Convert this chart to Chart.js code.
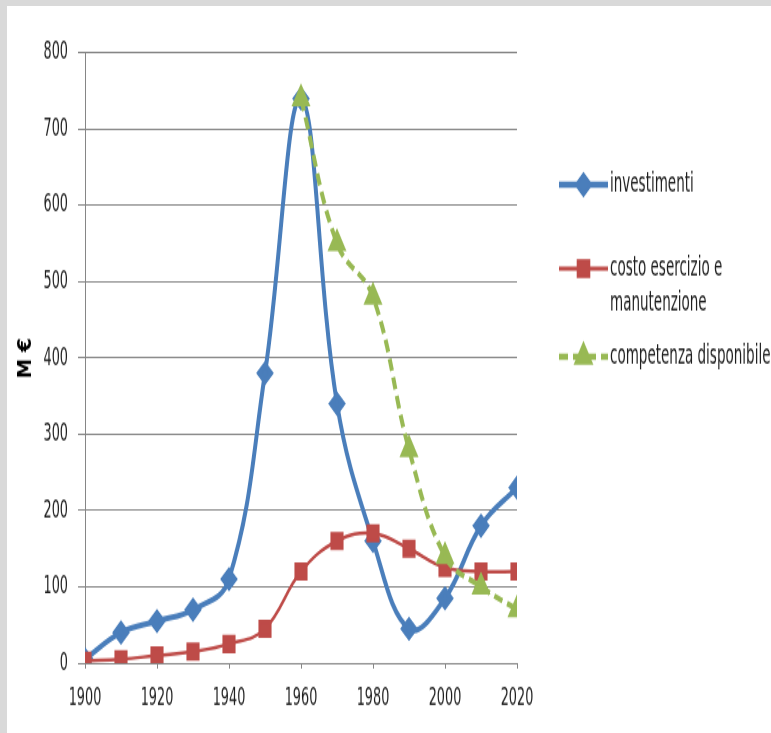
<!DOCTYPE html>
<html>
<head>
<meta charset="utf-8">
<script src="https://cdn.jsdelivr.net/npm/chart.js@4/dist/chart.umd.min.js"></script>
<style>
    html, body { margin: 0; padding: 0; background: #fff; overflow: hidden; }
    #wrap { position: relative; width: 771px; height: 733px; }
    #chart { position: absolute; left: 0; top: 0; transform-origin: 0 0; }
    .frame { position: absolute; background: #d9d9d9; }
</style>
</head>
<body>
<div id="wrap">
    <canvas id="chart" width="771" height="524"></canvas>
    <div class="frame" style="left:0;top:0;width:771px;height:6px"></div>
    <div class="frame" style="left:0;top:0;width:7px;height:733px"></div>
</div>
<script>
// data (M €)
const years = [1900, 1910, 1920, 1930, 1940, 1950, 1960, 1970, 1980, 1990, 2000, 2010, 2020];
const investimenti = [5, 40, 55, 70, 110, 380, 740, 340, 160, 45, 85, 180, 230];
const costoEsercizio = [3, 5, 10, 15, 25, 45, 120, 160, 170, 150, 125, 120, 120];
const competenza = [null, null, null, null, null, null, 740, 550, 480, 280, 140, 100, 70];

const seriesNames = ['investimenti', 'costo esercizio e manutenzione', 'competenza disponibile'];
const xTickValues = [1900, 1920, 1940, 1960, 1980, 2000, 2020];
const yTickValues = [0, 100, 200, 300, 400, 500, 600, 700, 800];
const yTitle = 'M €';

// the reference is stretched vertically, so the canvas is too
const STRETCH = 733 / 524;
// and its text is narrow: squeeze every label sideways
const TEXT_SQUEEZE = 0.79;

const canvas = document.getElementById('chart');
canvas.style.transform = 'scaleY(' + STRETCH + ')';
const ctx = canvas.getContext('2d');
const rawFillText = ctx.fillText.bind(ctx);
ctx.fillText = function (text, x, y) {
    this.save();
    this.translate(x, y);
    this.scale(TEXT_SQUEEZE, 1);
    rawFillText(text, 0, 0);
    this.restore();
};

const FONT = '"Liberation Sans Narrow", "DejaVu Sans Condensed", sans-serif';

const toPoints = vals => years.map((yr, i) => ({ x: yr, y: vals[i] }));

// legend drawn by hand: Excel-like spacing, two-line label
const legendRows = [
    { lines: ['investimenti'], y: 132 },
    { lines: ['costo esercizio e', 'manutenzione'], y: 192 },
    { lines: ['competenza disponibile'], y: 255 }
];

const sideLegend = {
    id: 'sideLegend',
    afterDraw(chart) {
        const c = chart.ctx;
        const x0 = 559, x1 = 608;
        chart.data.datasets.forEach((ds, i) => {
            const row = legendRows[i];
            c.save();
            c.strokeStyle = ds.borderColor;
            c.lineWidth = ds.borderWidth + 0.5;
            c.setLineDash(ds.borderDash || []);
            c.beginPath();
            c.moveTo(x0, row.y);
            c.lineTo(x1, row.y);
            c.stroke();
            c.setLineDash([]);
            Chart.helpers.drawPoint(c, {
                pointStyle: ds.pointStyle,
                radius: ds.pointRadius,
                rotation: 0,
                borderWidth: 1
            }, (x0 + x1) / 2, row.y);
            c.fillStyle = ds.pointBackgroundColor;
            c.fill();
            c.fillStyle = '#1f1f1f';
            c.font = '19px ' + FONT;
            c.textBaseline = 'middle';
            row.lines.forEach((t, k) => c.fillText(t, x1 + 2, row.y + k * 25));
            c.restore();
        });
    }
};

const axisTitle = {
    id: 'axisTitle',
    afterDraw(chart) {
        const c = chart.ctx;
        c.save();
        c.translate(26, 256);
        c.rotate(-Math.PI / 2);
        c.font = 'bold 20px ' + FONT;
        c.fillStyle = '#000';
        c.textAlign = 'center';
        c.textBaseline = 'middle';
        c.fillText(yTitle, 0, 0);
        c.restore();
    }
};

new Chart(ctx, {
    type: 'line',
    data: {
        datasets: [{
            label: seriesNames[0],
            data: toPoints(investimenti),
            borderColor: '#4a7ebb',
            backgroundColor: '#4a7ebb',
            pointBackgroundColor: '#4a7ebb',
            pointBorderColor: '#4a7ebb',
            borderWidth: 4,
            pointStyle: 'rectRot',
            pointRadius: 6,
            tension: 0.4,
            order: 3
        }, {
            label: seriesNames[1],
            data: toPoints(costoEsercizio),
            borderColor: '#be4b48',
            backgroundColor: '#be4b48',
            pointBackgroundColor: '#be4b48',
            pointBorderColor: '#be4b48',
            borderWidth: 2.5,
            pointStyle: 'rect',
            pointRadius: 7.5,
            tension: 0.4,
            order: 2
        }, {
            label: seriesNames[2],
            data: toPoints(competenza),
            borderColor: '#98b954',
            backgroundColor: '#98b954',
            pointBackgroundColor: '#98b954',
            pointBorderColor: '#98b954',
            borderWidth: 4,
            borderDash: [9, 5],
            pointStyle: 'triangle',
            pointRadius: 7,
            tension: 0.4,
            order: 1
        }]
    },
    options: {
        responsive: false,
        animation: false,
        devicePixelRatio: 1,
        layout: { padding: { left: 0, top: 37.7, right: 254, bottom: 0 } },
        plugins: {
            legend: { display: false },
            tooltip: { enabled: false }
        },
        scales: {
            x: {
                type: 'linear',
                min: 1900,
                max: 2020,
                afterBuildTicks: s => { s.ticks = xTickValues.map(v => ({ value: v })); },
                afterFit: s => { s.height = 50; },
                ticks: {
                    callback: v => String(v),
                    color: '#1f1f1f',
                    font: { family: FONT, size: 18 },
                    padding: 11,
                    maxRotation: 0
                },
                grid: { drawOnChartArea: false, tickLength: 4, color: '#868686' },
                border: { color: '#868686' }
            },
            y: {
                min: 0,
                max: 800,
                afterBuildTicks: s => { s.ticks = yTickValues.map(v => ({ value: v })); },
                afterFit: s => { s.width = 85; },
                ticks: {
                    color: '#1f1f1f',
                    font: { family: FONT, size: 18 },
                    padding: 10
                },
                grid: { color: '#868686', tickLength: 7 },
                border: { color: '#868686' }
            }
        }
    },
    plugins: [sideLegend, axisTitle]
});
</script>
</body>
</html>
